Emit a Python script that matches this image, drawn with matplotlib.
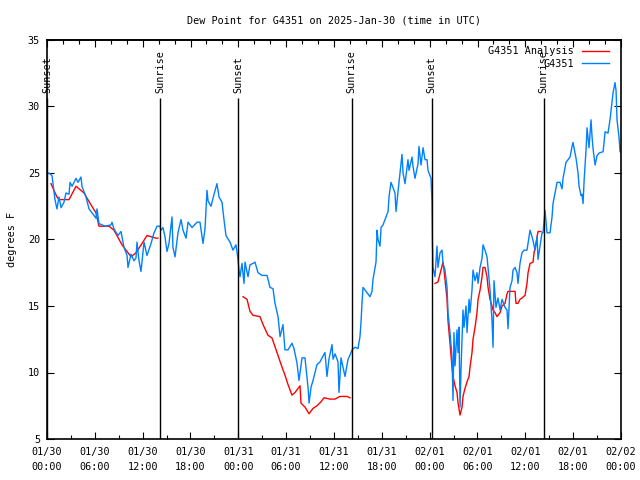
import numpy as np
import pandas as pd
import matplotlib
matplotlib.use("Agg")
import matplotlib.pyplot as plt
import matplotlib.dates as mdates

plt.rcParams['font.family'] = ['DejaVu Sans Mono']

# ---- data (hours after 2025-01-30 00:00 UTC, dew point in F) ----
obs_hours = [0.0, 0.25, 0.63, 1.0, 1.25, 1.5, 1.76, 2.13, 2.38, 2.76, 2.89, 3.14, 3.64, 3.89, 4.26, 4.39,
             4.89, 5.27, 5.64, 6.15, 6.27, 6.52, 7.28, 8.03, 8.15, 8.4, 8.9, 9.28, 9.66, 10.04, 10.16,
             10.54, 10.91, 11.16, 11.29, 11.54, 11.79, 12.17, 12.54, 13.05, 13.42, 13.8, 14.17,
             14.3, 14.55, 14.8, 15.05, 15.3, 15.68, 15.8, 16.06, 16.43, 16.81, 17.06, 17.44, 17.69,
             18.19, 18.82, 19.19, 19.57, 19.82, 20.07, 20.2, 20.57, 20.82, 21.32, 21.58, 21.95, 22.2,
             22.45, 22.96, 23.33, 23.71, 23.96, 24.08,
             24.21, 24.46, 24.71, 24.84, 25.21, 25.46, 25.84, 26.09, 26.47, 26.97, 27.6, 27.72, 27.97,
             28.35, 28.6, 28.98, 29.23, 29.6, 29.85, 30.23, 30.73, 30.98, 31.36, 31.61, 31.99, 32.36,
             32.74, 32.87, 33.12, 33.37, 33.87, 34.25, 34.5, 34.87, 35.12, 35.37, 35.75, 35.88, 36.13,
             36.5, 36.63, 36.88, 37.13, 37.38, 37.76, 38.01,
             38.26, 38.64, 39.01, 39.26, 39.39, 39.51, 39.64, 40.02, 40.27, 40.52, 40.77, 40.89, 41.27,
             41.4, 41.52, 41.77, 41.9, 42.15, 42.53, 42.78, 42.9, 43.15, 43.4, 43.65, 43.78, 44.03,
             44.28, 44.53, 44.66, 44.91, 45.28, 45.41, 45.79, 45.91, 46.16, 46.54, 46.66, 46.92, 47.17,
             47.42, 47.67, 47.79, 48.17,
             48.29, 48.35, 48.42, 48.67, 48.92, 49.04, 49.3, 49.55, 49.67, 49.92, 50.18, 50.3, 50.55,
             50.8, 50.93, 51.05, 51.18, 51.43, 51.56, 51.68, 51.81, 51.93, 52.18, 52.31, 52.56, 52.69,
             52.94, 53.06, 53.31, 53.44, 53.69, 53.94, 54.07, 54.32, 54.57, 54.69, 54.94, 55.19, 55.32,
             55.57, 55.82, 55.95, 56.07, 56.32, 56.57, 56.83, 57.08, 57.45, 57.7, 57.83, 58.08, 58.33,
             58.46, 58.71, 58.96, 59.08, 59.33, 59.58, 59.84, 60.21, 60.34, 60.59, 60.84, 60.97, 61.22,
             61.47, 61.59, 61.84, 62.09,
             62.22, 62.47, 62.72, 63.1, 63.35, 63.47, 63.72, 63.98, 64.35, 64.6, 64.73, 65.1, 65.36,
             65.61, 65.86, 65.98, 66.11, 66.36, 66.61, 66.74, 66.99, 67.11, 67.24, 67.37, 67.62, 67.74,
             67.87, 67.99, 68.24, 68.37, 68.5, 68.75, 68.99, 69.25, 69.75, 69.88, 70.0, 70.37, 70.62,
             70.87, 71.0, 71.25, 71.38, 71.5, 71.75, 71.88]
obs_values = [24.9, 25.0, 24.8, 23.0, 22.3, 23.2, 22.4, 22.8, 23.5, 23.4, 24.3, 24.0, 24.6, 24.3, 24.7, 24.0,
              23.2, 22.3, 22.0, 21.6, 22.3, 21.2, 21.0, 21.1, 21.3, 20.8, 20.3, 20.6, 19.4, 18.8, 17.9,
              18.9, 18.4, 18.6, 19.8, 18.4, 17.6, 19.8, 18.8, 19.7, 20.5, 21.0, 21.0,
              20.7, 20.9, 20.2, 19.1, 19.7, 21.7, 19.4, 18.7, 20.5, 21.5, 20.7, 20.1, 21.3,
              20.9, 21.3, 21.3, 19.7, 20.8, 23.7, 22.9, 22.5, 23.1, 24.2, 23.2, 22.8, 21.5,
              20.3, 19.8, 19.2, 19.6, 18.5, 17.7,
              17.2, 18.2, 16.7, 18.3, 17.2, 18.1, 18.2, 18.3, 17.5, 17.3, 17.3, 17.0, 16.4,
              16.3, 15.2, 14.2, 12.7, 13.6, 11.7, 11.7, 12.2, 11.8, 10.7, 9.4, 11.1, 11.1,
              8.9, 7.7, 8.9, 9.4, 10.6, 10.8, 11.1, 11.5, 9.7, 11.0, 12.1, 11.0, 11.4,
              10.8, 8.5, 11.1, 10.4, 9.7, 11.0, 11.3,
              11.7, 11.9, 11.8, 12.7, 13.8, 15.2, 16.4, 16.1, 15.9, 15.7, 16.1, 17.0, 18.3,
              20.7, 20.0, 19.5, 20.9, 21.1, 21.7, 22.1, 23.2, 24.3, 23.9, 23.5, 22.1, 23.6,
              25.0, 26.4, 25.0, 24.2, 26.0, 25.2, 26.2, 25.5, 24.6, 25.7, 27.0, 25.6, 26.9,
              26.0, 26.0, 25.2, 24.6,
              22.8, 19.7, 17.9, 17.2, 19.5, 17.9, 19.0, 19.2, 18.2, 17.7, 16.4, 14.5, 13.0,
              11.2, 7.9, 13.0, 10.5, 13.2, 11.5, 13.4, 7.4, 10.2, 14.7, 13.4, 15.0, 13.0,
              15.5, 14.5, 16.2, 17.7, 16.9, 17.5, 16.7, 17.9, 18.6, 19.6, 19.2, 18.7, 17.9,
              16.2, 13.9, 11.9, 16.9, 14.9, 15.6, 14.7, 15.5, 14.9, 14.7, 13.3, 16.4, 16.9,
              17.7, 17.9, 17.5, 16.7, 18.2, 19.0, 19.2, 19.2, 19.7, 20.7, 20.2, 19.9, 19.2,
              20.2, 18.5, 19.5, 20.5,
              20.5, 22.2, 20.5, 20.5, 21.7, 22.7, 23.5, 24.3, 24.3, 23.8, 24.6, 25.8, 26.0,
              26.2, 27.0, 27.3, 26.9, 26.1, 25.0, 24.0, 23.3, 23.4, 22.7, 24.4, 26.8, 28.4,
              27.6, 26.9, 29.0, 27.7, 26.8, 25.6, 26.3, 26.5, 26.6, 27.3, 28.1, 28.0, 29.0,
              30.3, 31.0, 31.8, 31.2, 29.0, 27.7, 26.6]

# analysis: three night-time segments
ana_hours_1 = [0.5, 1.25, 1.5, 2.76, 3.64, 4.64, 5.52, 6.15, 6.52, 7.78, 8.4, 9.41, 10.54, 11.16, 11.92,
               12.54, 13.67, 13.9]
ana_values_1 = [24.2, 23.2, 23.0, 23.0, 24.0, 23.5, 22.6, 22.0, 21.0, 21.0, 20.7, 19.6, 18.7, 19.0, 19.7,
                20.3, 20.1, 20.1]
ana_hours_2 = [24.59, 25.09, 25.46, 25.84, 26.72, 27.1, 27.72, 28.22, 28.85, 29.48, 29.85, 30.23, 30.73,
               31.11, 31.74, 31.86, 32.36, 32.87, 33.37, 33.87, 34.37, 34.75, 35.5, 36.13, 36.75, 37.63,
               38.01]
ana_values_2 = [15.7, 15.5, 14.6, 14.3, 14.2, 13.6, 12.8, 12.6, 11.5, 10.4, 9.8, 9.1, 8.3,
                8.5, 9.0, 7.7, 7.4, 6.9, 7.3, 7.5, 7.8, 8.1, 8.0, 8.0, 8.2, 8.2,
                8.1]
ana_hours_3 = [48.67, 49.04, 49.42, 49.67, 49.8, 50.18, 50.3, 50.55, 50.8, 50.93, 51.18, 51.43, 51.56,
               51.81, 52.06, 52.18, 52.43, 52.69, 52.94, 53.06, 53.31, 53.44, 53.69, 53.94, 54.07, 54.32,
               54.57, 54.69, 54.94, 55.19, 55.32, 55.57, 55.82, 55.95, 56.2, 56.45, 56.83, 57.08, 57.45,
               57.7, 57.83, 58.71, 58.83, 59.08, 59.33, 59.58, 59.96, 60.21, 60.34, 60.59, 60.97, 61.09,
               61.34, 61.47, 61.59, 61.97]
ana_values_3 = [16.7, 16.8, 17.7, 18.3, 17.7, 15.5, 13.9, 12.2, 10.4, 9.7, 9.0, 8.5, 7.7,
                6.8, 7.4, 8.2, 8.8, 9.3, 9.7, 10.4, 11.5, 12.5, 13.4, 14.5, 15.5, 16.2,
                17.2, 17.9, 17.9, 17.2, 16.4, 15.5, 15.0, 14.7, 14.5, 14.2, 14.5, 15.0, 15.2,
                15.9, 16.1, 16.1, 15.2, 15.2, 15.5, 15.6, 15.8, 16.7, 17.5, 18.2, 18.3, 19.0,
                19.7, 20.2, 20.6, 20.6]

sun_hours = [0.0, 14.23, 24.02, 38.2, 48.23, 62.28]
sun_labels = ["Sunset", "Sunrise", "Sunset", "Sunrise", "Sunset", "Sunrise"]

start = pd.Timestamp("2025-01-30 00:00")
end = pd.Timestamp("2025-02-02 00:00")

def to_time(hours):
    return (start + pd.to_timedelta(np.asarray(hours, dtype=float), unit="h")).to_pydatetime()

fig = plt.figure(figsize=(6.4, 4.8), dpi=100)
ax = fig.add_axes([47/640, 1-439/480, 574/640, 399/480])

fs = 7.3
red = "#ff0000"
blue = "#0080ff"
segs = [(ana_hours_1, ana_values_1), (ana_hours_2, ana_values_2), (ana_hours_3, ana_values_3)]
for i, (h, v) in enumerate(segs):
    ax.plot(to_time(h), v, color=red, lw=1.0, label="G4351 Analysis" if i == 0 else None)
ax.plot(to_time(obs_hours), obs_values, color=blue, lw=1.0, label="G4351")

for t, lab in zip(to_time(sun_hours), sun_labels):
    ax.vlines(t, 5, 30.65, color="black", lw=1.0)
    ax.text(t, 31.0, lab, rotation=90, ha="center", va="bottom", fontsize=fs)

ax.set_xlim(start, end)
ax.set_ylim(5, 35)
ax.set_yticks(range(5, 36, 5))
ax.xaxis.set_major_locator(mdates.HourLocator(byhour=range(0, 24, 6)))
ax.xaxis.set_minor_locator(mdates.HourLocator(byhour=range(0, 24, 3)))
ax.xaxis.set_major_formatter(mdates.DateFormatter("%m/%d\n%H:%M"))
ax.tick_params(axis="both", which="major", direction="in", length=5, width=0.8,
               labelsize=fs, right=True, pad=5)
ax.tick_params(axis="both", which="minor", direction="in", length=3, width=0.8, right=True)
ax.tick_params(axis="x", which="major", pad=6)
for lab in ax.get_xticklabels():
    lab.set_linespacing(1.55)

sec = ax.secondary_xaxis("top")
sec.xaxis.set_major_locator(mdates.HourLocator(byhour=range(0, 24, 6)))
sec.xaxis.set_minor_locator(mdates.HourLocator(byhour=range(0, 24, 2)))
sec.tick_params(which="major", direction="in", length=5, width=0.8, labeltop=False)
sec.tick_params(which="minor", direction="in", length=3, width=0.8)
for s in sec.spines.values():
    s.set_linewidth(1.2)

for s in ax.spines.values():
    s.set_linewidth(1.2)

ax.set_ylabel("degrees F", fontsize=fs, labelpad=8)
ax.set_title("Dew Point for G4351 on 2025-Jan-30 (time in UTC)", fontsize=fs, pad=12)

leg = ax.legend(loc="upper right", frameon=False, markerfirst=False, fontsize=fs,
                handlelength=2.7, handletextpad=0.8, labelspacing=0.25,
                borderaxespad=0.2, bbox_to_anchor=(0.99, 1.0))

fig.savefig("out.png", dpi=100)
